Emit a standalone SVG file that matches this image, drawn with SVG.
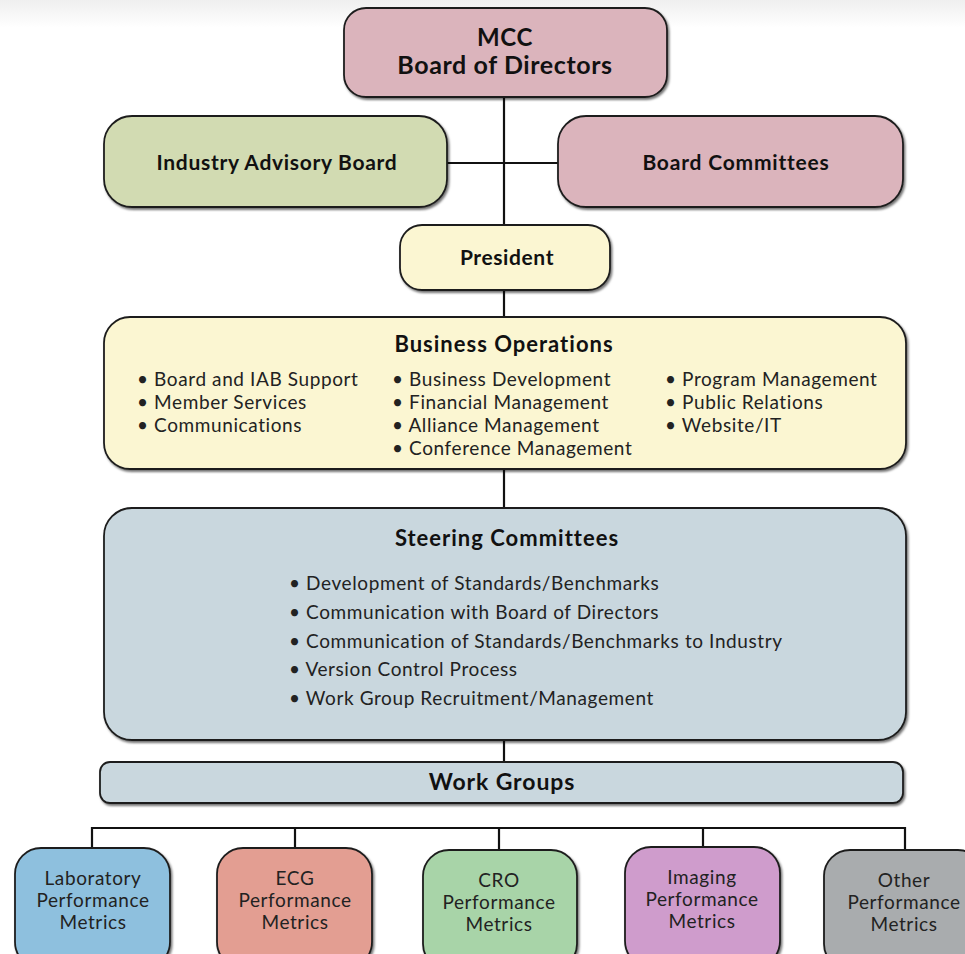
<svg xmlns="http://www.w3.org/2000/svg" width="965" height="954" viewBox="0 0 965 954">
<defs>
<linearGradient id="topfade" x1="0" y1="0" x2="0" y2="1">
<stop offset="0" stop-color="#efefef"/>
<stop offset="1" stop-color="#ffffff"/>
</linearGradient>
<filter id="sh" x="-5%" y="-5%" width="110%" height="115%">
<feDropShadow dx="1.5" dy="2" stdDeviation="0.8" flood-color="#000" flood-opacity="0.55"/>
</filter>
</defs>
<style>
.box{stroke:#1e1e1e;stroke-width:1.8;filter:url(#sh)}
.pink{fill:#dbb4bc}
.green{fill:#d2dbb2}
.cream{fill:#fbf6d2}
.steel{fill:#c9d7de}
.t{font-family:Lato,"Liberation Sans",sans-serif;fill:#111}
.b{font-weight:bold}
.c{text-anchor:middle}
.li{font-size:19px;letter-spacing:0.6px;fill:#222}
.leaf{font-size:19px;letter-spacing:0.6px;fill:#222}
.conn{stroke:#111;stroke-width:2.2;fill:none}
</style>
<rect x="0" y="0" width="965" height="954" fill="#fff"/>
<rect x="0" y="0" width="965" height="28" fill="url(#topfade)"/>

<g id="connectors">
<line class="conn" x1="504" y1="96" x2="504" y2="226"/>
<line class="conn" x1="446" y1="163" x2="559" y2="163"/>
<line class="conn" x1="504" y1="289" x2="504" y2="318"/>
<line class="conn" x1="504" y1="468" x2="504" y2="509"/>
<line class="conn" x1="504" y1="739" x2="504" y2="763"/>
<polyline class="conn" points="92,848 92,828 905,828 905,850"/>
<line class="conn" x1="295" y1="828" x2="295" y2="848"/>
<line class="conn" x1="499" y1="828" x2="499" y2="850"/>
<line class="conn" x1="703" y1="828" x2="703" y2="848"/>
</g>

<g id="mcc">
<rect class="box pink" x="344" y="8" width="323" height="89" rx="22"/>
<text class="t b c" x="505" y="46" font-size="24" letter-spacing="0.6">MCC</text>
<text class="t b c" x="505" y="74" font-size="25" letter-spacing="0.6">Board of Directors</text>
</g>

<g id="iab">
<rect class="box green" x="104" y="116" width="343" height="91" rx="28"/>
<text class="t b c" x="277" y="170" font-size="21" letter-spacing="0.7">Industry Advisory Board</text>
</g>

<g id="board-committees">
<rect class="box pink" x="558" y="116" width="345" height="91" rx="28"/>
<text class="t b c" x="736" y="170" font-size="21" letter-spacing="0.8">Board Committees</text>
</g>

<g id="president">
<rect class="box cream" x="400" y="225" width="210" height="65" rx="22"/>
<text class="t b c" x="507" y="265" font-size="21" letter-spacing="0.6">President</text>
</g>

<g id="business-operations">
<rect class="box cream" x="104" y="317" width="802" height="152" rx="26"/>
<text class="t b c" x="504" y="352" font-size="22" letter-spacing="1">Business Operations</text>
<g class="t li">
<text x="137" y="386">• Board and IAB Support</text>
<text x="137" y="409">• Member Services</text>
<text x="137" y="432">• Communications</text>
<text x="392" y="386">• Business Development</text>
<text x="392" y="409">• Financial Management</text>
<text x="392" y="432">• Alliance Management</text>
<text x="392" y="455">• Conference Management</text>
<text x="665" y="386">• Program Management</text>
<text x="665" y="409">• Public Relations</text>
<text x="665" y="432">• Website/IT</text>
</g>
</g>

<g id="steering-committees">
<rect class="box steel" x="104" y="508" width="802" height="232" rx="28"/>
<text class="t b c" x="507" y="546" font-size="22" letter-spacing="1">Steering Committees</text>
<g class="t li">
<text x="289" y="590">• Development of Standards/Benchmarks</text>
<text x="289" y="619">• Communication with Board of Directors</text>
<text x="289" y="648">• Communication of Standards/Benchmarks to Industry</text>
<text x="289" y="676">• Version Control Process</text>
<text x="289" y="705">• Work Group Recruitment/Management</text>
</g>
</g>

<g id="work-groups">
<rect class="box steel" x="100" y="762" width="803" height="41" rx="10"/>
<text class="t b c" x="502" y="790" font-size="23" letter-spacing="0.9">Work Groups</text>
</g>

<g id="lab">
<rect class="box" fill="#8ec0de" x="15" y="848" width="155" height="120" rx="26"/>
<text class="t leaf c" x="93" y="885">Laboratory</text>
<text class="t leaf c" x="93" y="907">Performance</text>
<text class="t leaf c" x="93" y="929">Metrics</text>
</g>

<g id="ecg">
<rect class="box" fill="#e39e92" x="217" y="848" width="155" height="120" rx="26"/>
<text class="t leaf c" x="295" y="885">ECG</text>
<text class="t leaf c" x="295" y="907">Performance</text>
<text class="t leaf c" x="295" y="929">Metrics</text>
</g>

<g id="cro">
<rect class="box" fill="#a8d4a8" x="423" y="850" width="154" height="120" rx="26"/>
<text class="t leaf c" x="499" y="887">CRO</text>
<text class="t leaf c" x="499" y="909">Performance</text>
<text class="t leaf c" x="499" y="931">Metrics</text>
</g>

<g id="imaging">
<rect class="box" fill="#cf9ccc" x="625" y="847" width="155" height="120" rx="26"/>
<text class="t leaf c" x="702" y="884">Imaging</text>
<text class="t leaf c" x="702" y="906">Performance</text>
<text class="t leaf c" x="702" y="928">Metrics</text>
</g>

<g id="other">
<rect class="box" fill="#a9acae" x="824" y="850" width="160" height="120" rx="26"/>
<text class="t leaf c" x="904" y="887">Other</text>
<text class="t leaf c" x="904" y="909">Performance</text>
<text class="t leaf c" x="904" y="931">Metrics</text>
</g>
</svg>
